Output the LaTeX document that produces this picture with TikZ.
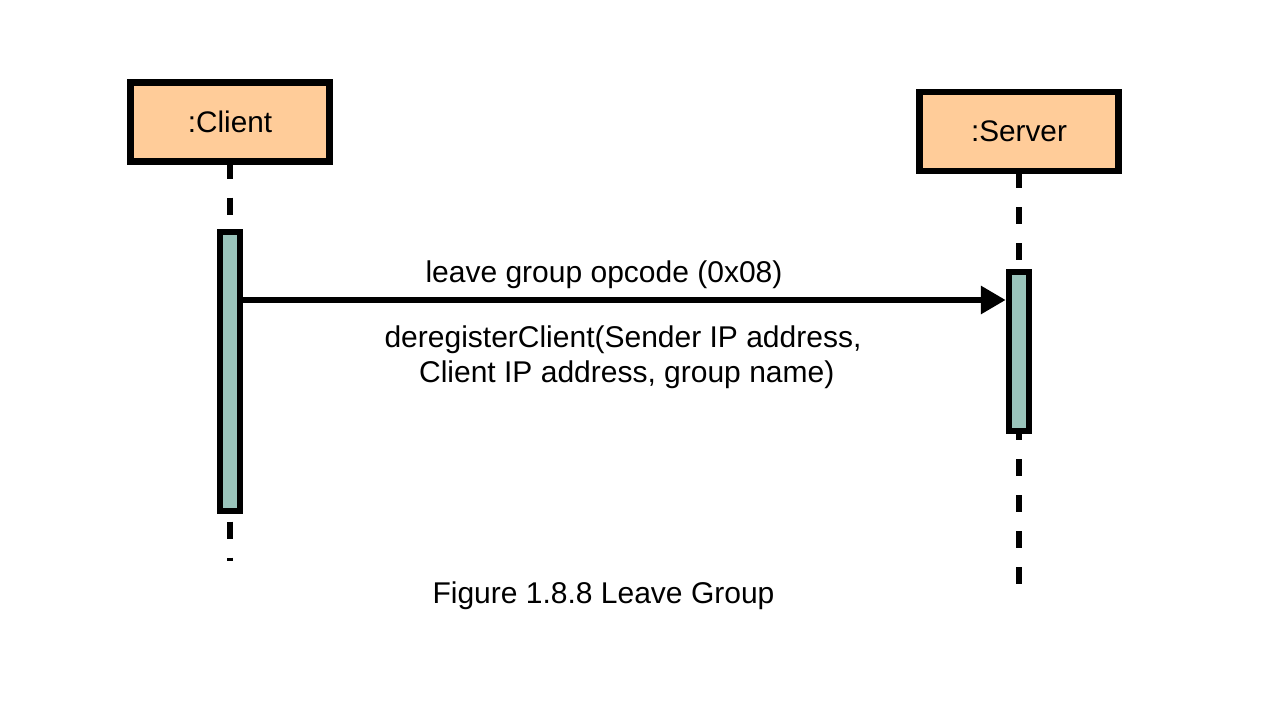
\documentclass[tikz,border=0pt]{standalone}
\usepackage{fontspec}
\setmainfont{Liberation Sans}
\usetikzlibrary{positioning, arrows.meta}
\definecolor{boxorange}{HTML}{FFCC99}
\definecolor{bargreen}{HTML}{9AC4BB}

\begin{document}
\begin{tikzpicture}[x=0.75pt, y=-0.75pt,
    lifebox/.style={draw, line width=4.875pt, outer sep=0pt, fill=boxorange, minimum width=149.6pt, minimum height=59.6pt, text depth=0.07em, font=\fontsize{22.3}{26}\selectfont},
    actbar/.style={draw, line width=4.875pt, fill=bargreen, minimum width=15pt, inner sep=0pt},
    lifeline/.style={line width=4.875pt, dash pattern=on 12.75pt off 14.25pt},
    msg/.style={line width=4.875pt, -{Triangle[length=18.75pt, width=20.25pt]}},
    msgtext/.style={inner sep=0pt, font=\fontsize{22.5}{26}\selectfont}]
    \useasboundingbox (0,0) rectangle (1268,706);
    \node[lifebox] (client) at (230,122) {:Client};
    \node[lifebox] (server) at (1019,131.5) {:Server};
    % ends of the lifelines
    \coordinate (client_end) at (230,561);
    \coordinate (server_end) at (1019,585);
    \coordinate (msg_y) at (0,300);

    \draw[lifeline] (client.south) -- (client_end);
    \draw[lifeline] (server.south) -- (server_end);

    \node[actbar, minimum height=209.25pt] (client_bar) at (230,371.5) {};
    \node[actbar, minimum height=119.25pt] (server_bar) at (1019,351.5) {};

    \draw[msg] (client_bar.east|-msg_y) -- (server_bar.west|-msg_y);

    \node[msgtext] (opcode) at (604,275) {leave group opcode (0x08)};
    \node[msgtext, align=center] (call) at (623,357) {deregisterClient(Sender IP address,\\\hspace*{0.25em}Client IP address, group name)};
    \node[msgtext] (caption) at (603.5,596) {Figure 1.8.8 Leave Group};
\end{tikzpicture}
\end{document}
